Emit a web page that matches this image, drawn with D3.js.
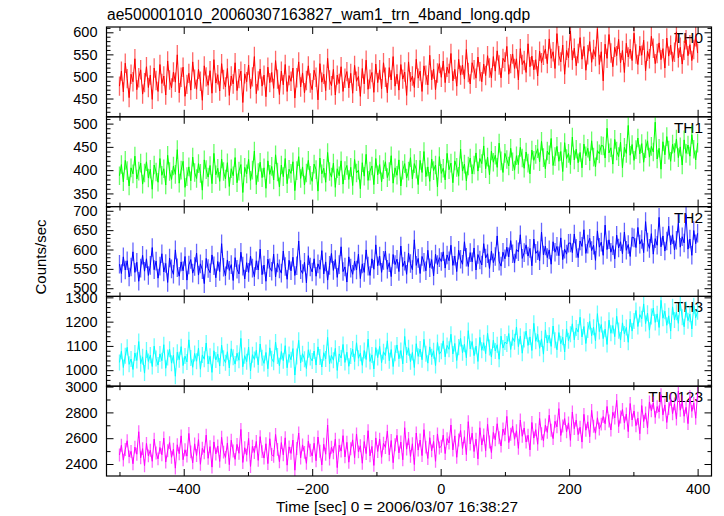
<!DOCTYPE html>
<html><head><meta charset="utf-8">
<script src="https://cdn.jsdelivr.net/npm/d3@7"></script>
<style>
body{margin:0;background:#fff}
svg{display:block}
text{font-family:"Liberation Sans",Arial,Helvetica,sans-serif;fill:#000}
</style>
</head><body>
<svg id="chart" width="724" height="516"></svg>
<script>
const chartTitle = "ae500001010_20060307163827_wam1_trn_4band_long.qdp";
const xAxisTitle = "Time [sec] 0 = 2006/03/07 16:38:27";
const yAxisTitle = "Counts/sec";
const tStart = -500, tStep = 3;

const th0 = [
478,512,465,530,495,452,505,488,540,470,497,515,460,486,522,475,503,448,519,491,
466,527,484,501,458,535,492,474,510,487,549,463,498,521,455,482,507,469,533,494,
471,516,489,446,524,499,480,513,462,538,485,504,467,529,493,476,518,457,501,483,
531,468,495,512,441,506,488,526,472,499,545,461,490,517,478,503,454,521,486,509,
473,536,494,459,512,481,527,466,502,489,519,451,497,533,476,508,463,491,524,485,
470,514,498,447,529,487,505,468,541,492,479,516,458,503,484,522,466,496,511,474,
507,462,525,489,500,455,518,483,537,471,494,509,464,528,
486,515,472,531,498,463,520,492,545,478,505,469,527,494,510,457,533,488,501,475,539,496,512,466,524,503,481,548,492,517,470,508,529,
498,535,486,521,507,552,490,516,478,539,503,526,494,561,509,483,531,515,496,544,511,488,528,502,547,519,497,
545,512,558,526,497,541,533,568,505,529,551,518,540,492,563,527,536,509,574,522,546,515,538,501,557,531,548,
562,529,585,541,556,518,597,547,533,571,505,559,542,603,537,564,524,552,588,539,
568,514,549,579,532,561,545,608,527,556,490,573,541,595,553,522,566,547,584,531,
559,509,575,544,562,536,598,551,527,569,548,582,513,557,540,591,564,529,552,576,
538,563,519,587,546,571,534,555,601,542,566,528,559,583,547,572,536,561,590,553];

const th1 = [
388,412,375,421,399,366,405,392,430,381,398,415,370,394,418,383,402,359,411,396,
374,425,389,403,368,432,397,380,409,391,444,372,400,419,363,386,407,377,428,395,
382,414,393,357,422,401,385,410,371,436,390,404,376,424,397,381,416,365,403,388,
427,373,398,412,352,406,392,423,378,400,441,369,395,417,384,405,361,420,391,408,
379,433,396,364,411,386,425,371,402,393,418,356,399,429,382,407,368,394,421,389,
376,413,401,355,426,392,404,374,438,397,385,415,363,403,388,420,370,399,410,380,
406,367,423,394,400,360,416,387,434,378,398,409,369,425,390,412,375,401,418,384,
397,431,372,405,389,422,366,400,414,383,
398,427,381,414,402,369,421,395,440,386,407,376,424,399,411,364,429,393,404,379,436,401,415,373,420,406,387,445,398,413,377,409,426,392,
411,437,398,425,414,452,403,428,390,441,417,432,406,458,420,395,436,423,409,447,418,400,431,412,449,426,404,439,415,392,443,421,434,
446,418,462,427,403,441,433,468,410,429,451,419,440,397,459,425,436,412,471,422,445,416,438,405,456,431,447,420,463,428,407,442,435,453,
452,426,490,437,448,413,466,441,429,460,405,449,436,496,432,455,421,444,469,435,457,417,446,463,428,451,439,503,424,447,402,461,433,472,443,419,456,438,467,427,450,411,465,436,454,430,476,445,422,458];

const th2 = [
562,538,581,547,571,529,555,594,541,567,518,552,585,544,576,533,559,605,548,570,
526,557,589,542,564,515,578,550,536,599,553,531,568,545,582,521,560,574,539,556,
591,534,563,548,512,577,551,540,586,558,527,569,543,615,554,532,573,546,561,520,
579,549,537,593,557,524,566,541,583,552,530,571,547,601,535,560,518,575,553,544,
588,529,565,550,539,596,556,523,572,545,580,533,558,622,548,538,567,514,584,555,
542,576,531,563,549,597,537,568,521,559,590,546,574,528,561,607,543,555,516,581,
552,536,570,547,588,525,563,541,599,557,533,576,549,612,
558,583,541,572,596,549,566,530,587,561,575,543,609,556,570,536,591,564,548,625,559,577,538,582,567,545,598,553,574,532,588,561,579,
569,594,552,586,571,611,559,583,543,598,575,562,620,580,556,592,568,604,547,587,573,560,615,578,589,551,596,566,582,635,570,557,593,576,
606,581,623,589,565,600,594,638,577,592,612,583,603,558,627,590,597,571,645,586,609,579,599,562,620,593,608,584,630,574,601,588,616,
617,592,640,603,579,622,608,651,590,614,629,597,611,572,648,606,619,585,663,600,625,593,610,576,637,604,620,589,645,598,613,582,632,
630,605,657,614,626,592,672,619,603,641,588,628,611,683,607,635,596,622,660,612,638,599,624,668,606,633,617,690,601,627,585,649,615,642];

const th3 = [
1032,1078,1011,1059,1094,1024,1046,1003,1071,1040,1118,1027,1055,988,1083,1036,1062,1015,1099,1048,
1021,1067,1039,1105,1008,1052,1086,1029,1061,975,1074,1043,1097,1019,1058,1034,1125,1050,1012,1069,
1037,1091,1004,1063,1045,1112,1026,1057,991,1080,1042,1066,1017,1103,1049,1031,1076,1009,1088,1053,
1025,1070,1041,1131,1014,1060,1035,1095,997,1064,1044,1082,1022,1108,1051,1028,1073,1006,1092,1047,
1033,1116,1058,1018,1077,1039,1101,1010,1065,1043,1089,980,1056,1123,1030,1068,1045,1007,1084,1052,
1038,1079,1021,1096,1054,1013,1072,1046,1135,1027,1061,1041,1090,999,1067,1050,1106,1032,1074,1016,
1058,1087,1035,1113,1049,1070,1020,1081,1044,1128,1036,1063,1005,1093,
1052,1098,1031,1076,1060,1121,1039,1085,1015,1070,1104,1047,1081,1026,1139,1063,1092,1035,1073,1011,1109,1057,1087,1043,1127,1068,1029,1096,1055,1080,1019,1114,1066,
1078,1121,1055,1102,1086,1148,1067,1110,1040,1095,1131,1072,1107,1051,1163,1088,1118,1060,1099,1036,1135,1082,1113,1068,1152,1093,1054,1124,1079,1105,1045,1140,1091,1116,
1108,1151,1085,1134,1117,1178,1097,1140,1070,1126,1161,1102,1137,1081,1193,1119,1148,1090,1129,1066,1166,1112,1144,1098,1182,1123,1084,1155,1109,1136,1075,1170,1121,
1148,1191,1125,1174,1157,1218,1137,1180,1110,1166,1201,1142,1177,1121,1233,1159,1188,1130,1169,1106,1206,1152,1184,1138,1222,1163,1124,1195,1149,1176,1115,1210,1161,
1203,1246,1180,1229,1212,1273,1192,1235,1165,1221,1256,1197,1232,1176,1288,1214,1243,1185,1224,1161,1261,1207,1239,1193,1277,1218,1179,1250,1204,1231,1170,1265,1216,1241];

const th0123 = [
2470,2545,2430,2512,2580,2455,2498,2402,2531,2476,2650,2448,2519,2387,2560,2463,2507,2421,2593,2485,
2440,2528,2472,2601,2415,2503,2566,2452,2515,2368,2549,2480,2618,2433,2510,2461,2637,2494,2409,2556,
2466,2589,2398,2522,2487,2624,2444,2535,2376,2571,2478,2540,2420,2607,2492,2451,2563,2395,2584,2501,
2436,2552,2483,2668,2412,2526,2469,2598,2381,2538,2489,2575,2428,2612,2496,2446,2557,2403,2596,2474,
2459,2629,2513,2418,2566,2471,2603,2391,2533,2482,2585,2352,2520,2640,2447,2548,2490,2405,2577,2506,
2462,2561,2425,2609,2499,2393,2553,2476,2702,2438,2530,2487,2592,2372,2545,2500,2620,2455,2568,2414,
2518,2587,2449,2633,2494,2541,2406,2574,2481,2658,2463,2536,2389,2602,
2497,2593,2452,2561,2528,2655,2471,2582,2410,2549,2622,2486,2570,2433,2681,2515,2598,2459,2557,2396,2640,2508,2586,2465,2666,2531,2443,2604,2502,2575,2421,2633,2524,
2538,2624,2481,2597,2563,2702,2509,2618,2452,2586,2660,2520,2611,2473,2728,2555,2639,2497,2592,2440,2681,2547,2626,2503,2708,2571,2489,
2645,2588,2712,2603,2540,2671,2627,2769,2566,2631,2695,2592,2658,2521,2741,2615,2679,2570,2623,2509,2722,2601,2666,2553,2753,2634,2580,
2702,2645,2778,2661,2597,2731,2688,2829,2621,2695,2752,2650,2719,2583,2803,2674,2740,2628,2685,2570,2785,2662,2727,2612,2816,2693,2639,2758,2671,2709,
2768,2712,2846,2733,2664,2801,2757,2893,2690,2764,2822,2718,2787,2651,2869,2741,2810,2697,2755,2635,2853,2729,2796,2680,2881,
2812,2874,2761,2845,2803,2937,2781,2858,2722,2829,2901,2790,2866,2748,2965,2817,2880,2770,2839,2713,2921,2808,2872,2755,2948];

const panelNames = ["TH0","TH1","TH2","TH3","TH0123"];
const seriesValues = [th0, th1, th2, th3, th0123];
const seriesColors = ["#ff0000","#00ff00","#0000ff","#00ffff","#ff00ff"];
const errorSizes = [22, 20, 24, 33, 50];
const yDomains = [[408.6,612],[321.7,514.6],[478.9,710.8],[934,1304],[2307,3003]];
const yMajorTicks = [[450,500,550,600],[350,400,450,500],[500,550,600,650,700],[1000,1100,1200,1300],[2400,2600,2800,3000]];
const yMinorSteps = [10,10,10,20,100];
const xDomain = [-520.2, 421.6];
const xMajorTicks = [-400,-200,0,200,400];
const xMinorTicks = [-500,-300,-100,100,300];

const svg = d3.select("#chart");
const L = 106.5, R = 711.5, T = 27, B = 476;
const nP = panelNames.length;
const pH = (B - T) / nP;
const x = d3.scaleLinear().domain(xDomain).range([L, R]);

svg.append("text").attr("x", 107).attr("y", 20).attr("font-size", 15.6).text(chartTitle);

panelNames.forEach((name, p) => {
  const top = T + p * pH, bot = top + pH;
  const y = d3.scaleLinear().domain(yDomains[p]).range([bot, top]);
  const g = svg.append("g");
  const minor = d3.range(Math.ceil(yDomains[p][0]/yMinorSteps[p])*yMinorSteps[p], yDomains[p][1], yMinorSteps[p])
      .filter(v => !yMajorTicks[p].includes(v));

  const clipId = "clip" + p;
  svg.append("clipPath").attr("id", clipId).append("rect")
     .attr("x", L).attr("y", top).attr("width", R - L).attr("height", pH);

  // panel label (under data)
  g.append("text").attr("x", 703).attr("y", top + 16).attr("text-anchor", "end")
    .attr("font-size", 15.4).text(name);

  // data
  const vals = seriesValues[p];
  const err = errorSizes[p];
  const dg = g.append("g").attr("clip-path", `url(#${clipId})`);
  const t = (i) => tStart + i * tStep;
  let ep = "";
  vals.forEach((v, i) => {
    const xx = x(t(i));
    ep += `M${xx.toFixed(2)},${y(v - err).toFixed(2)}V${y(v + err).toFixed(2)}`;
  });
  dg.append("path").attr("d", ep).attr("stroke", seriesColors[p]).attr("stroke-opacity", 0.6)
    .attr("stroke-width", 1.3).attr("fill", "none");
  const line = d3.line().x((v, i) => x(t(i))).y(v => y(v));
  dg.append("path").attr("d", line(vals)).attr("stroke", seriesColors[p])
    .attr("stroke-width", 1).attr("fill", "none");

  // y axes
  const axL = g.append("g").attr("transform", `translate(${L},0)`);
  axL.call(d3.axisLeft(y).tickValues(yMajorTicks[p]).tickSize(-7).tickPadding(9).tickFormat(d3.format("d")));
  axL.append("g").call(d3.axisLeft(y).tickValues(minor).tickSize(-4).tickFormat(""));
  const axR = g.append("g").attr("transform", `translate(${R},0)`);
  axR.call(d3.axisRight(y).tickValues(yMajorTicks[p]).tickSize(-7).tickFormat(""));
  axR.append("g").call(d3.axisRight(y).tickValues(minor).tickSize(-4).tickFormat(""));

  // x ticks top / bottom
  const axT = g.append("g").attr("transform", `translate(0,${top})`);
  axT.call(d3.axisTop(x).tickValues(xMajorTicks).tickSize(-7).tickFormat(""));
  axT.append("g").call(d3.axisTop(x).tickValues(xMinorTicks).tickSize(-4).tickFormat(""));
  const axB = g.append("g").attr("transform", `translate(0,${bot})`);
  if (p === nP - 1) {
    axB.call(d3.axisBottom(x).tickValues(xMajorTicks).tickSize(-7).tickPadding(8).tickFormat(d3.format("d")));
  } else {
    axB.call(d3.axisBottom(x).tickValues(xMajorTicks).tickSize(-7).tickFormat(""));
  }
  axB.append("g").call(d3.axisBottom(x).tickValues(xMinorTicks).tickSize(-4).tickFormat(""));

  g.selectAll(".domain").remove();
  g.selectAll(".tick line").attr("stroke", "#000").attr("stroke-width", 1);
  g.selectAll(".tick text").attr("font-size", 14.5).attr("fill", "#000")
    .attr("font-family", '"Liberation Sans",Arial,sans-serif');

  g.append("rect").attr("x", L).attr("y", top).attr("width", R - L).attr("height", pH)
    .attr("fill", "none").attr("stroke", "#000").attr("stroke-width", 1.2);
});

svg.append("text").attr("transform", `translate(46,257) rotate(-90)`).attr("text-anchor", "middle")
  .attr("font-size", 15).text(yAxisTitle);
svg.append("text").attr("x", 397).attr("y", 512).attr("text-anchor", "middle")
  .attr("font-size", 15.4).text(xAxisTitle);
</script>
</body></html>
